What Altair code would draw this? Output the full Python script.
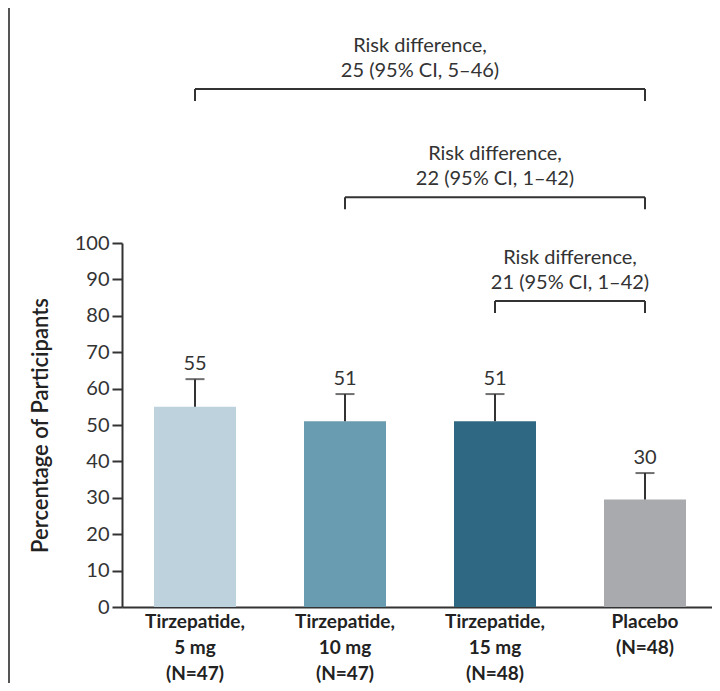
import altair as alt
import pandas as pd

# ---- data ----
groups = ["Tirzepatide,|5 mg|(N=47)", "Tirzepatide,|10 mg|(N=47)",
          "Tirzepatide,|15 mg|(N=48)", "Placebo|(N=48)"]
percent = [55.0, 51.0, 51.0, 29.5]
ci_upper = [62.6, 58.5, 58.5, 36.8]
value_labels = ["55", "51", "51", "30"]
bar_colors = ["#bdd2dd", "#6a9cb1", "#2f6883", "#a8aaad"]

bracket_from = [0, 1, 2]
bracket_to = [3, 3, 3]
bracket_level = [142.3, 112.6, 84.1]
bracket_text = ["Risk difference,\n25 (95% CI, 5\u201346)",
                "Risk difference,\n22 (95% CI, 1\u201342)",
                "Risk difference,\n21 (95% CI, 1\u201342)"]

# ---- layout ----
W, H = 590, 364
STEP, BAR, FIRST_CENTER = 150.0, 82.0, 73.0
n = len(groups)
p_inner = 1 - BAR / STEP
p_outer = (W / STEP - n + p_inner) / 2
align = (FIRST_CENTER - BAR / 2) / (W - STEP * (n - p_inner))
lin_domain = [-FIRST_CENTER / STEP, (W - FIRST_CENTER) / STEP]

FONT = "Lato"
INK = "#333333"

df = pd.DataFrame({"group": groups, "pct": percent, "upper": ci_upper,
                   "label": value_labels})
ann = pd.DataFrame({"from_i": bracket_from, "to_i": bracket_to,
                    "level": bracket_level, "txt": bracket_text})

band = alt.Scale(domain=groups, paddingInner=p_inner, paddingOuter=p_outer, align=align)
yscale = alt.Scale(domain=[0, 100], nice=False, zero=True)

x_axis = alt.Axis(title=None, labelExpr="split(datum.label, '|')", labelFont=FONT,
                  labelFontSize=19, labelFontWeight="bold", labelLineHeight=26,
                  labelPadding=5, labelColor="#222222", ticks=False, domainColor=INK,
                  domainWidth=2, labelAngle=0, labelOverlap=False)
y_axis = alt.Axis(values=list(range(0, 101, 10)), title="Percentage of Participants",
                  grid=False, labelFont=FONT, labelFontSize=20, labelColor=INK,
                  tickSize=10, tickWidth=2, tickColor=INK, domainColor=INK,
                  domainWidth=2, labelPadding=3, titleFont=FONT, titleFontSize=22,
                  titleFontWeight=600, titleColor="#222222", titlePadding=22)


def yenc(field):
    return alt.Y(field, scale=yscale, axis=y_axis, title="Percentage of Participants")


bars = alt.Chart(df).mark_bar().encode(
    x=alt.X("group:N", sort=groups, scale=band, axis=x_axis),
    y=yenc("pct:Q"),
    color=alt.Color("group:N", scale=alt.Scale(domain=groups, range=bar_colors), legend=None),
)
err = alt.Chart(df).mark_rule(strokeWidth=2, color=INK).encode(
    x=alt.X("group:N", sort=groups, scale=band, axis=x_axis),
    y=yenc("pct:Q"),
    y2="upper:Q",
)
cap = alt.Chart(df).mark_tick(size=19, thickness=2, color=INK).encode(
    x=alt.X("group:N", sort=groups, scale=band, axis=x_axis),
    y=yenc("upper:Q"),
)
vals = alt.Chart(df).mark_text(dy=-9, baseline="alphabetic", font=FONT, fontSize=20,
                               color=INK).encode(
    x=alt.X("group:N", sort=groups, scale=band, axis=x_axis),
    y=yenc("upper:Q"),
    text="label:N",
)
band_layers = alt.layer(bars, err, cap, vals)

lin = alt.Scale(domain=lin_domain, nice=False, zero=False)
hline = alt.Chart(ann).mark_rule(strokeWidth=2, color=INK).encode(
    x=alt.X("from_i:Q", scale=lin, axis=None),
    x2="to_i:Q",
    y=yenc("level:Q"),
)
vticks = alt.Chart(ann).transform_fold(
    ["from_i", "to_i"], as_=["end", "idx"]
).transform_calculate(low="datum.level - 3.3").mark_rule(strokeWidth=2, color=INK).encode(
    x=alt.X("idx:Q", scale=lin, axis=None),
    y=yenc("level:Q"),
    y2="low:Q",
)
atext = alt.Chart(ann).transform_calculate(
    mid="(datum.from_i + datum.to_i) / 2"
).mark_text(lineBreak="\n", lineHeight=25, baseline="bottom", dy=-33, font=FONT,
            fontSize=20, color=INK).encode(
    x=alt.X("mid:Q", scale=lin, axis=None),
    y=yenc("level:Q"),
    text="txt:N",
)
ann_layers = alt.layer(hline, vticks, atext)

border = alt.Chart(pd.DataFrame({"a": [0]})).mark_rule(color="#555555", strokeWidth=2).encode(
    x=alt.value(-113), y=alt.value(-235), y2=alt.value(440)
)

chart = alt.layer(band_layers, ann_layers, border).resolve_scale(
    x="independent"
).properties(
    width=W, height=H,
    autosize=alt.AutoSizeParams(type="none"),
    padding={"left": 114, "top": 235, "right": 0, "bottom": 76},
).configure_view(stroke=None)

chart.save("out.html", embed_options={"renderer": "svg", "actions": False})
